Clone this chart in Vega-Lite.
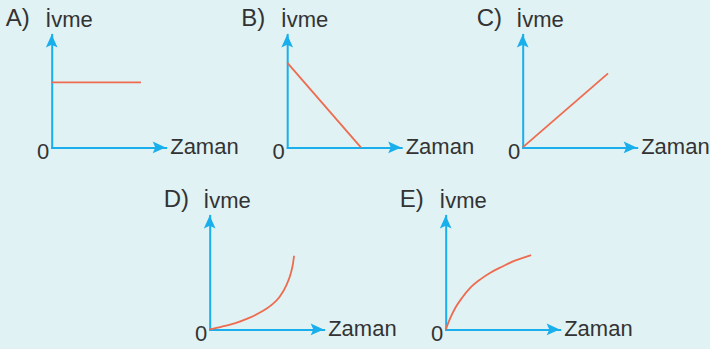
{
  "$schema": "https://vega.github.io/schema/vega-lite/v6.json",
  "background": "#e0f2f3",
  "padding": {"left": 5.7, "top": 7.4, "right": 2, "bottom": 7},
  "datasets": {
    "A": [{"zaman": 0, "ivme": 5.75}, {"zaman": 7.83, "ivme": 5.75}],
    "B": [{"zaman": 0, "ivme": 7.5}, {"zaman": 6.46, "ivme": 0}],
    "C": [{"zaman": 0, "ivme": 0}, {"zaman": 7.49, "ivme": 6.55}],
    "D": [
      {"zaman": 0, "ivme": 0}, {"zaman": 1.02, "ivme": 0.23}, {"zaman": 2.19, "ivme": 0.53},
      {"zaman": 3.36, "ivme": 0.96}, {"zaman": 4.53, "ivme": 1.54}, {"zaman": 5.41, "ivme": 2.13},
      {"zaman": 6.14, "ivme": 2.86}, {"zaman": 6.73, "ivme": 3.89}, {"zaman": 7.11, "ivme": 4.91},
      {"zaman": 7.31, "ivme": 5.79}, {"zaman": 7.4, "ivme": 6.46}
    ],
    "E": [
      {"zaman": 0, "ivme": 0}, {"zaman": 0.41, "ivme": 1.02}, {"zaman": 0.85, "ivme": 1.9},
      {"zaman": 1.44, "ivme": 2.78}, {"zaman": 2.17, "ivme": 3.66}, {"zaman": 3.04, "ivme": 4.39},
      {"zaman": 3.92, "ivme": 4.97}, {"zaman": 4.94, "ivme": 5.5}, {"zaman": 5.96, "ivme": 5.99},
      {"zaman": 6.84, "ivme": 6.29}, {"zaman": 7.49, "ivme": 6.52}
    ],
    "one": [{}]
  },
  "spacing": 26,
  "vconcat": [
    {
      "hconcat": [
        {
          "width": 114, "height": 113,
          "layer": [
            {"data": {"name": "A"}, "mark": {"type": "line", "color": "#ef6b4f", "strokeWidth": 1.8},
             "encoding": {
               "x": {"field": "zaman", "type": "quantitative", "scale": {"domain": [0, 10], "nice": false, "zero": false}, "axis": {"title": "Zaman", "labels": false}},
               "y": {"field": "ivme", "type": "quantitative", "scale": {"domain": [0, 10], "nice": false, "zero": false}, "axis": {"title": "İvme", "values": [0]}}}},
            {"data": {"name": "one"}, "mark": {"type": "point", "shape": "M0,0L-2,-0.9L-1.6,0L-2,0.9Z", "size": 169, "filled": true, "color": "#19aeec", "opacity": 1, "strokeWidth": 0},
             "encoding": {"x": {"datum": 10}, "y": {"datum": 0}}},
            {"data": {"name": "one"}, "mark": {"type": "point", "shape": "M0,0L-0.9,2L0,1.6L0.9,2Z", "size": 169, "filled": true, "color": "#19aeec", "opacity": 1, "strokeWidth": 0},
             "encoding": {"x": {"datum": 0}, "y": {"datum": 10}}},
            {"data": {"name": "one"}, "mark": {"type": "text", "text": "A)", "align": "left", "baseline": "alphabetic", "dx": -46, "dy": -8, "fontSize": 24, "font": "Liberation Sans", "color": "#333333"},
             "encoding": {"x": {"datum": 0}, "y": {"datum": 10}}}
          ]
        },
        {
          "width": 114, "height": 113,
          "layer": [
            {"data": {"name": "B"}, "mark": {"type": "line", "color": "#ef6b4f", "strokeWidth": 1.8},
             "encoding": {
               "x": {"field": "zaman", "type": "quantitative", "scale": {"domain": [0, 10], "nice": false, "zero": false}, "axis": {"title": "Zaman", "labels": false}},
               "y": {"field": "ivme", "type": "quantitative", "scale": {"domain": [0, 10], "nice": false, "zero": false}, "axis": {"title": "İvme", "values": [0]}}}},
            {"data": {"name": "one"}, "mark": {"type": "point", "shape": "M0,0L-2,-0.9L-1.6,0L-2,0.9Z", "size": 169, "filled": true, "color": "#19aeec", "opacity": 1, "strokeWidth": 0},
             "encoding": {"x": {"datum": 10}, "y": {"datum": 0}}},
            {"data": {"name": "one"}, "mark": {"type": "point", "shape": "M0,0L-0.9,2L0,1.6L0.9,2Z", "size": 169, "filled": true, "color": "#19aeec", "opacity": 1, "strokeWidth": 0},
             "encoding": {"x": {"datum": 0}, "y": {"datum": 10}}},
            {"data": {"name": "one"}, "mark": {"type": "text", "text": "B)", "align": "left", "baseline": "alphabetic", "dx": -46, "dy": -8, "fontSize": 24, "font": "Liberation Sans", "color": "#333333"},
             "encoding": {"x": {"datum": 0}, "y": {"datum": 10}}}
          ]
        },
        {
          "width": 114, "height": 113,
          "layer": [
            {"data": {"name": "C"}, "mark": {"type": "line", "color": "#ef6b4f", "strokeWidth": 1.8},
             "encoding": {
               "x": {"field": "zaman", "type": "quantitative", "scale": {"domain": [0, 10], "nice": false, "zero": false}, "axis": {"title": "Zaman", "labels": false}},
               "y": {"field": "ivme", "type": "quantitative", "scale": {"domain": [0, 10], "nice": false, "zero": false}, "axis": {"title": "İvme", "values": [0]}}}},
            {"data": {"name": "one"}, "mark": {"type": "point", "shape": "M0,0L-2,-0.9L-1.6,0L-2,0.9Z", "size": 169, "filled": true, "color": "#19aeec", "opacity": 1, "strokeWidth": 0},
             "encoding": {"x": {"datum": 10}, "y": {"datum": 0}}},
            {"data": {"name": "one"}, "mark": {"type": "point", "shape": "M0,0L-0.9,2L0,1.6L0.9,2Z", "size": 169, "filled": true, "color": "#19aeec", "opacity": 1, "strokeWidth": 0},
             "encoding": {"x": {"datum": 0}, "y": {"datum": 10}}},
            {"data": {"name": "one"}, "mark": {"type": "text", "text": "C)", "align": "left", "baseline": "alphabetic", "dx": -46, "dy": -8, "fontSize": 24, "font": "Liberation Sans", "color": "#333333"},
             "encoding": {"x": {"datum": 0}, "y": {"datum": 10}}}
          ]
        }
      ],
      "spacing": 121.5,
      "bounds": "flush"
    },
    {
      "hconcat": [
        {"width": 36, "height": 114, "data": {"name": "one"}, "mark": {"type": "point", "opacity": 0}, "encoding": {}},
        {
          "width": 114, "height": 114,
          "layer": [
            {"data": {"name": "D"}, "mark": {"type": "line", "color": "#ef6b4f", "strokeWidth": 1.8, "interpolate": "monotone"},
             "encoding": {
               "x": {"field": "zaman", "type": "quantitative", "scale": {"domain": [0, 10], "nice": false, "zero": false}, "axis": {"title": "Zaman", "labels": false}},
               "y": {"field": "ivme", "type": "quantitative", "scale": {"domain": [0, 10], "nice": false, "zero": false}, "axis": {"title": "İvme", "values": [0]}}}},
            {"data": {"name": "one"}, "mark": {"type": "point", "shape": "M0,0L-2,-0.9L-1.6,0L-2,0.9Z", "size": 169, "filled": true, "color": "#19aeec", "opacity": 1, "strokeWidth": 0},
             "encoding": {"x": {"datum": 10}, "y": {"datum": 0}}},
            {"data": {"name": "one"}, "mark": {"type": "point", "shape": "M0,0L-0.9,2L0,1.6L0.9,2Z", "size": 169, "filled": true, "color": "#19aeec", "opacity": 1, "strokeWidth": 0},
             "encoding": {"x": {"datum": 0}, "y": {"datum": 10}}},
            {"data": {"name": "one"}, "mark": {"type": "text", "text": "D)", "align": "left", "baseline": "alphabetic", "dx": -46, "dy": -8, "fontSize": 24, "font": "Liberation Sans", "color": "#333333"},
             "encoding": {"x": {"datum": 0}, "y": {"datum": 10}}}
          ]
        },
        {
          "width": 114, "height": 114,
          "layer": [
            {"data": {"name": "E"}, "mark": {"type": "line", "color": "#ef6b4f", "strokeWidth": 1.8, "interpolate": "monotone"},
             "encoding": {
               "x": {"field": "zaman", "type": "quantitative", "scale": {"domain": [0, 10], "nice": false, "zero": false}, "axis": {"title": "Zaman", "labels": false}},
               "y": {"field": "ivme", "type": "quantitative", "scale": {"domain": [0, 10], "nice": false, "zero": false}, "axis": {"title": "İvme", "values": [0]}}}},
            {"data": {"name": "one"}, "mark": {"type": "point", "shape": "M0,0L-2,-0.9L-1.6,0L-2,0.9Z", "size": 169, "filled": true, "color": "#19aeec", "opacity": 1, "strokeWidth": 0},
             "encoding": {"x": {"datum": 10}, "y": {"datum": 0}}},
            {"data": {"name": "one"}, "mark": {"type": "point", "shape": "M0,0L-0.9,2L0,1.6L0.9,2Z", "size": 169, "filled": true, "color": "#19aeec", "opacity": 1, "strokeWidth": 0},
             "encoding": {"x": {"datum": 0}, "y": {"datum": 10}}},
            {"data": {"name": "one"}, "mark": {"type": "text", "text": "E)", "align": "left", "baseline": "alphabetic", "dx": -46, "dy": -8, "fontSize": 24, "font": "Liberation Sans", "color": "#333333"},
             "encoding": {"x": {"datum": 0}, "y": {"datum": 10}}}
          ]
        }
      ],
      "spacing": 122,
      "bounds": "flush"
    }
  ],
  "config": {
    "view": {"stroke": null},
    "font": "Liberation Sans",
    "axis": {
      "domainColor": "#19aeec", "domainWidth": 2, "domainCap": "square",
      "ticks": false, "tickSize": 0, "grid": false,
      "labelFont": "Liberation Sans", "labelFontSize": 22, "labelColor": "#333333",
      "titleFont": "Liberation Sans", "titleFontSize": 22, "titleFontWeight": "normal", "titleColor": "#333333"
    },
    "axisX": {"titleX": 118, "titleY": 6, "titleAlign": "left", "titleBaseline": "alphabetic", "titleAngle": 0},
    "axisY": {"titleX": -7, "titleY": -8, "titleAlign": "left", "titleBaseline": "alphabetic", "titleAngle": 0,
              "labelBaseline": "alphabetic", "labelOffset": 11, "labelPadding": 3, "labelAlign": "right"}
  }
}
